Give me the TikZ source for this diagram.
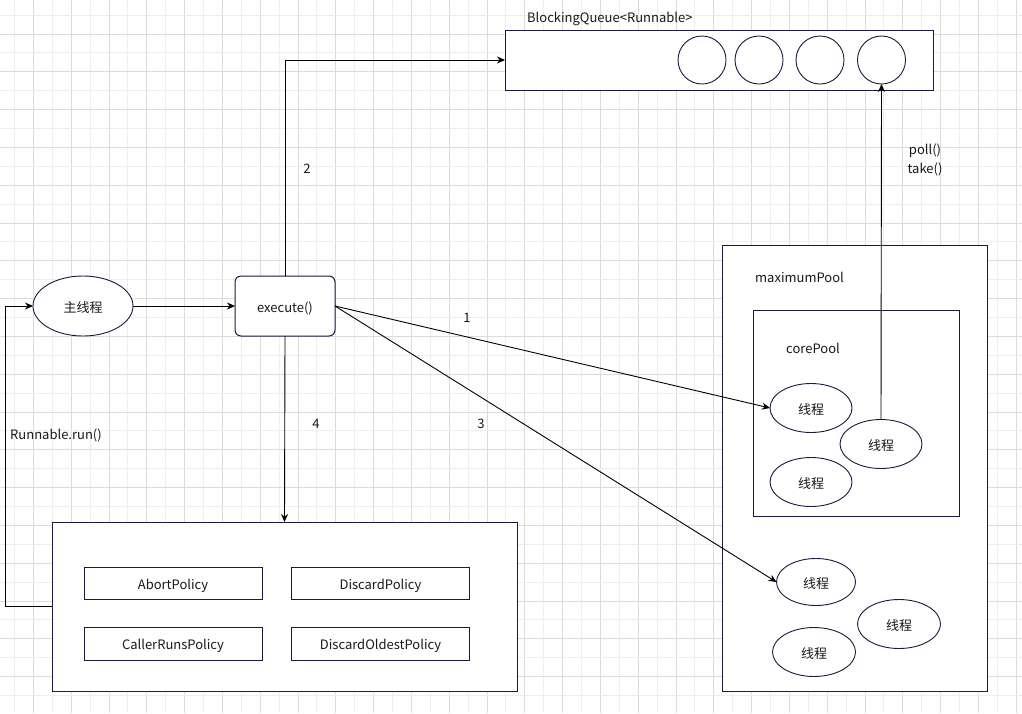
\documentclass[tikz,border=0pt]{standalone}
\usepackage{fontspec}
\setmainfont{Noto Sans CJK SC}
\usetikzlibrary{arrows.meta, shapes.geometric}
\definecolor{navy}{RGB}{26,26,62}
\definecolor{gridmin}{RGB}{238,238,238}
\definecolor{gridmaj}{RGB}{220,220,220}

\begin{document}
\begin{tikzpicture}[x=1pt, y=-1pt,
  every node/.style={font=\fontsize{13}{15}\selectfont, text=black!90,
    text height=15pt, text depth=3pt},
  box/.style={draw=navy, line width=1pt, fill=white, inner sep=0pt, outer sep=0pt},
  thr/.style={ellipse, draw=navy, line width=0.9pt, fill=white, inner sep=0pt,
    outer sep=0pt, minimum width=82pt, minimum height=49pt},
  slot/.style={circle, draw=navy, line width=0.9pt, fill=white, inner sep=0pt,
    outer sep=0pt, minimum size=48pt},
  pol/.style={box, minimum width=178pt, minimum height=32pt},
  arr/.style={-{Stealth[length=8pt, width=7pt]}, line width=0.9pt},
  lbl/.style={inner sep=0pt}]
\fill[white] (0,0) rectangle (1022,713);
\useasboundingbox (0,0) rectangle (1022,713);
\foreach \k in {0,...,26} {
  \draw[gridmin, line width=0.8pt] (14.4+37.8*\k,0) -- ++(0,713);
  \draw[gridmaj, line width=0.8pt] (33.3+37.8*\k,0) -- ++(0,713);
}
\foreach \k in {0,...,18} {
  \draw[gridmin, line width=0.8pt] (0,15+37.8*\k) -- ++(1022,0);
  \draw[gridmaj, line width=0.8pt] (0,34+37.8*\k) -- ++(1022,0);
}

\node[box, minimum width=428pt, minimum height=60pt] (bq) at (719,60) {};
\node[lbl, anchor=west] (bqt) at (527,16) {BlockingQueue<Runnable>};
\node[slot] (c1) at (702,60) {};
\node[slot] (c2) at (759,60) {};
\node[slot] (c3) at (820,60) {};
\node[slot] (c4) at (881.5,60) {};

\node[thr, minimum width=100pt, minimum height=60pt] (main) at (83,306) {主线程};
\node[box, rounded corners=6pt, minimum width=100pt, minimum height=60pt] (exe) at (285,306) {execute()};

\node[box, minimum width=265pt, minimum height=446pt] (maxp) at (854.5,468) {};
\node[lbl, anchor=west] (maxt) at (755,276) {maximumPool};
\node[box, minimum width=206pt, minimum height=206pt] (corep) at (856,413) {};
\node[lbl, anchor=west] (coret) at (786,347) {corePool};
\node[thr] (ct1) at (811,408) {线程};
\node[thr] (ct2) at (881,444) {线程};
\node[thr] (ct3) at (811,482) {线程};
\node[thr, minimum width=79pt, minimum height=47pt] (mt1) at (816,582) {线程};
\node[thr, minimum width=83pt] (mt2) at (899,624) {线程};
\node[thr, minimum width=83pt] (mt3) at (814,652) {线程};

\node[box, minimum width=465pt, minimum height=169pt] (rej) at (284.5,606.5) {};
\node[pol] (abort) at (173,583) {AbortPolicy};
\node[pol] (disc) at (380.5,583) {DiscardPolicy};
\node[pol, minimum height=33pt] (caller) at (173,643.5) {CallerRunsPolicy};
\node[pol, minimum height=33pt] (oldest) at (380.5,643.5) {DiscardOldestPolicy};

\coordinate (loop) at (5.5,606.5);
\draw[arr] (main) -- (exe);
\draw[arr] (exe.north) |- (bq.west);
\draw[arr] (exe.east) -- (ct1.west);
\draw[arr] (exe.east) -- (mt1.west);
\draw[arr] (exe.south) -- (rej.north);
\draw[arr] (rej.west) -- (loop) |- (main.west);
\draw[arr] (ct2.north) -- (c4.south);

\node[lbl] (n1) at (467,316) {1};
\node[lbl] (n2) at (307,167) {2};
\node[lbl] (n3) at (481,422) {3};
\node[lbl] (n4) at (316,422) {4};
\node[lbl] (run) at (56,433) {Runnable.run()};
\node[lbl] (poll) at (925,148) {poll()};
\node[lbl] (take) at (925,167) {take()};
\end{tikzpicture}
\end{document}
